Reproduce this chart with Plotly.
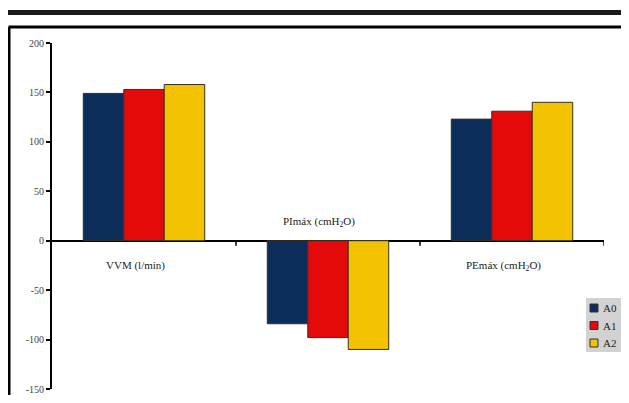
import plotly.graph_objects as go

categories = ["VVM", "PImax", "PEmax"]
cat_labels = ["VVM (l/min)", "PImáx (cmH<sub>2</sub>O)", "PEmáx (cmH<sub>2</sub>O)"]
series_names = ["A0", "A1", "A2"]
a0 = [149, -84, 123]
a1 = [153, -98, 131]
a2 = [158, -110, 140]
colors = ["#0c2c5a", "#e40a0a", "#f3c200"]
y_ticks = [-150, -100, -50, 0, 50, 100, 150, 200]
y_tick_labels = ["-150", "-100", "-50", "0", "50", "100", "150", "200"]

# page is 629x403; the html body has an 8px margin, so the figure is 16px smaller
OFF = 8
W, H = 629 - 2 * OFF, 403 - 2 * OFF
# desired page-pixel plot area: x 52..604, y 43..389
ML, MR, MT, MB = 52 - OFF, 629 - OFF - 604, 43 - OFF, 403 - OFF - 389
PW, PH = W - ML - MR, H - MT - MB

def px_x(p):
    return (p - OFF - ML) / PW

def px_y(p):
    return (H - MB - (p - OFF)) / PH

fig = go.Figure()
for name, vals, col in zip(series_names, [a0, a1, a2], colors):
    fig.add_trace(go.Bar(
        x=categories, y=vals, name=name,
        marker=dict(color=col, line=dict(color="#3a3020", width=1)),
    ))

font_serif = "Liberation Serif, Times New Roman, serif"

annotations = []
for cat, lab, v in zip(categories, cat_labels, a0):
    annotations.append(dict(
        x=cat, y=0, xref="x", yref="y", text=lab, showarrow=False,
        xshift=-9, yshift=-25 if v > 0 else 19,
        font=dict(family=font_serif, size=11, color="#222"),
    ))

shapes = []
# outer frame (top and left border of the panel)
shapes.append(dict(type="line", xref="paper", yref="paper",
                   x0=px_x(8.5), x1=px_x(629), y0=px_y(27), y1=px_y(27),
                   line=dict(color="black", width=3)))
shapes.append(dict(type="line", xref="paper", yref="paper",
                   x0=px_x(9), x1=px_x(9), y0=px_y(27), y1=px_y(403),
                   line=dict(color="black", width=3)))
# heavy bar above
shapes.append(dict(type="rect", xref="paper", yref="paper",
                   x0=px_x(7), x1=px_x(629), y0=px_y(10), y1=px_y(15),
                   fillcolor="#1a1a1a", line=dict(width=0)))
# category boundary ticks on zero line
for b in [0.5, 1.5, 2.5]:
    shapes.append(dict(type="line", xref="x", yref="y", x0=b, x1=b, y0=0, y1=-5,
                       line=dict(color="black", width=1.5)))

# custom legend box
shapes.append(dict(type="rect", xref="paper", yref="paper",
                   x0=px_x(586), x1=px_x(627), y0=px_y(298), y1=px_y(352),
                   fillcolor="#d2d2d2", line=dict(width=0)))
for i, (name, col) in enumerate(zip(series_names, colors)):
    yc = 308 + i * 17.5
    shapes.append(dict(type="rect", xref="paper", yref="paper",
                       x0=px_x(590), x1=px_x(598), y0=px_y(yc - 4), y1=px_y(yc + 4),
                       fillcolor=col, line=dict(color="#333", width=1)))
    annotations.append(dict(x=px_x(601), y=px_y(yc), xref="paper", yref="paper",
                            xanchor="left", yanchor="middle", text=name, showarrow=False,
                            font=dict(family=font_serif, size=11, color="#222")))

fig.update_layout(
    width=W, height=H,
    margin=dict(l=ML, r=MR, t=MT, b=MB),
    paper_bgcolor="white", plot_bgcolor="white",
    barmode="group", bargap=0.34, bargroupgap=0,
    font=dict(family=font_serif, size=9, color="#333"),
    showlegend=False,
    xaxis=dict(showticklabels=False, showline=False, showgrid=False, zeroline=False,
               range=[-0.5, 2.5]),
    yaxis=dict(range=[-150, 200], tickvals=y_ticks, ticktext=y_tick_labels, showgrid=False,
               showline=True, linecolor="black", linewidth=2,
               ticks="outside", ticklen=4, tickwidth=2, tickcolor="black",
               zeroline=True, zerolinecolor="black", zerolinewidth=2,
               ticklabeloverflow="allow", automargin=False,
               tickfont=dict(family=font_serif, size=10, color="#444")),
    annotations=annotations, shapes=shapes,
)

fig.write_html("out.html", config={"displayModeBar": False})
